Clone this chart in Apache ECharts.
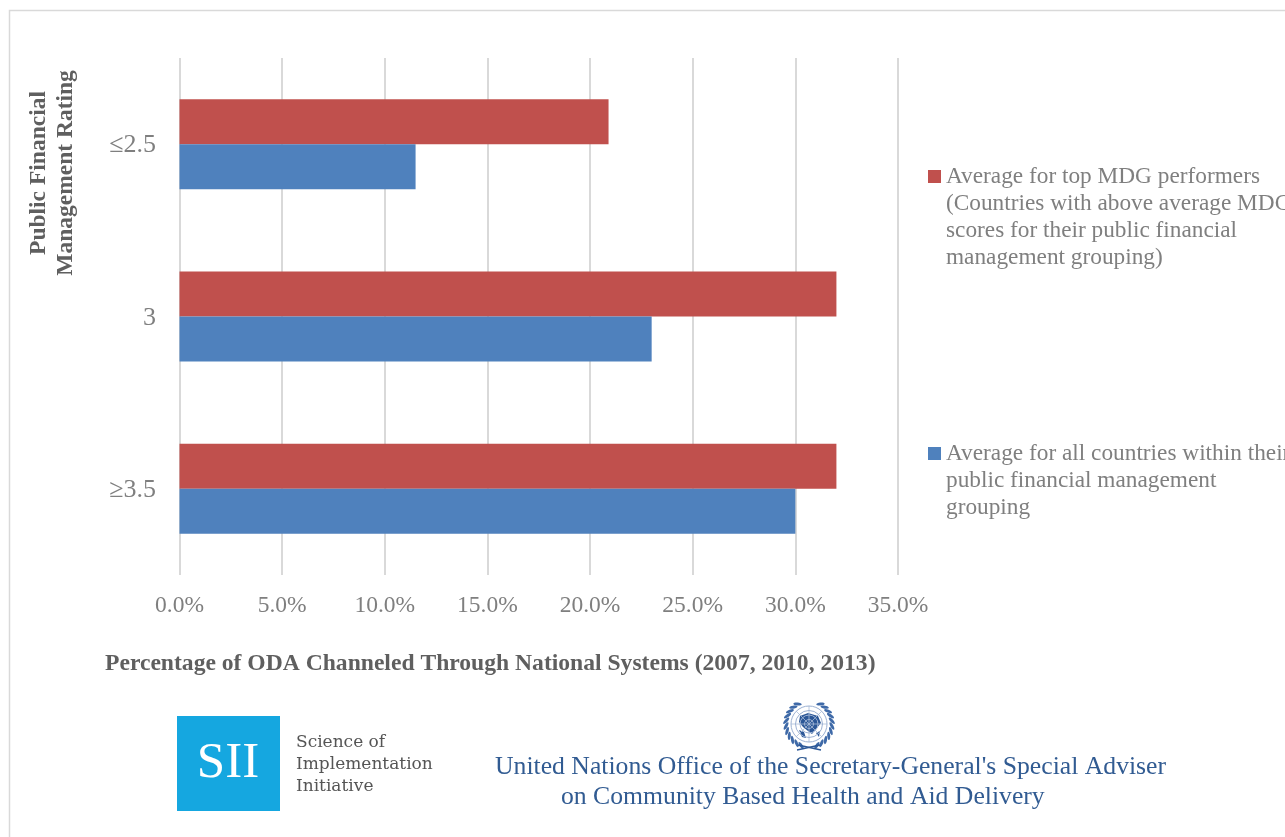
<!DOCTYPE html>
<html>
<head>
<meta charset="utf-8">
<title>ODA channeled through national systems</title>
<script src="https://cdn.jsdelivr.net/npm/echarts@6/dist/echarts.min.js"></script>
<style>
  html, body { margin: 0; padding: 0; background: #fff; overflow: hidden; }
  #chart { width: 1285px; height: 837px; }
</style>
</head>
<body>
<div id="chart"></div>
<script>
const categories = ['≤2.5', '3', '≥3.5'];
const topPerformers = [20.9, 32, 32];
const allCountries = [11.5, 23, 30];
const topName = 'Average for top MDG performers\n(Countries with above average MDG\nscores for their public financial\nmanagement grouping)';
const allName = 'Average for all countries within their\npublic financial management\ngrouping';

const serif = '"Liberation Serif", serif';
const grey = '#7f7f7f';
const boldGrey = '#5f5f5f';
const navy = '#315b92';

// Legend text hangs from the swatch: blank lines above keep the first line level with it.
function hanging(name) {
  const lines = name.split('\n');
  return '\n'.repeat(lines.length - 1) + name;
}

function legendFor(name, top) {
  return {
    data: [name], left: 928, top: top, padding: 0, itemWidth: 13, itemHeight: 13, itemGap: 5,
    icon: 'rect', selectedMode: false,
    formatter: hanging,
    textStyle: { fontFamily: serif, fontSize: 23.3, lineHeight: 27, color: grey }
  };
}

// UN emblem: land masses, rings and meridians of the globe, olive wreath and crossed stems
const emblemCx = 809, emblemCy = 724;
function emblem() {
  const kids = [];
  const land = [
    [[800, 716], [808, 713], [818, 716], [821, 723], [816, 729], [812, 734], [808, 731], [803, 727], [799, 722]],
    [[799, 730], [804, 732], [806, 738], [802, 737]],
    [[816, 733], [820, 731], [819, 737]]
  ];
  land.forEach(points => kids.push({
    type: 'polygon', silent: true, shape: { points }, style: { fill: '#2b5797' }
  }));
  [0, 45, 90, 135].forEach(a => {
    const t = a * Math.PI / 180;
    kids.push({
      type: 'line', silent: true,
      shape: {
        x1: emblemCx - 18 * Math.cos(t), y1: emblemCy - 18 * Math.sin(t),
        x2: emblemCx + 18 * Math.cos(t), y2: emblemCy + 18 * Math.sin(t)
      },
      style: { stroke: '#a9bcd8', lineWidth: 0.8 }
    });
  });
  [18, 13.5, 9, 4.5].forEach(r => kids.push({
    type: 'circle', shape: { cx: emblemCx, cy: emblemCy, r }, silent: true,
    style: { fill: 'none', stroke: '#9db2d3', lineWidth: 1 }
  }));
  // Leaves lean away from the ring so the wreath reads as separate sprigs
  const lean = 35 * Math.PI / 180;
  for (let deg = 20; deg <= 150; deg += 13) {
    [1, -1].forEach(side => {
      const t = deg * Math.PI / 180;
      const x = emblemCx + side * 23 * Math.sin(t);
      const y = emblemCy + 23 * Math.cos(t);
      kids.push({
        type: 'ellipse', silent: true,
        shape: { cx: x, cy: y, rx: 1.5, ry: 4.2 },
        rotation: side * (t - Math.PI / 2 + lean), originX: x, originY: y,
        style: { fill: '#3f6aa8' }
      });
    });
  }
  [[798, 745, 821, 750], [820, 745, 797, 750]].forEach(([x1, y1, x2, y2]) => kids.push({
    type: 'line', silent: true, shape: { x1, y1, x2, y2 },
    style: { stroke: '#2b5797', lineWidth: 1.4 }
  }));
  return { type: 'group', children: kids };
}

const chart = echarts.init(document.getElementById('chart'), null, { renderer: 'canvas' });
chart.setOption({
  animation: false,
  backgroundColor: '#fff',
  title: {
    left: 105, top: 652, padding: 0,
    text: '{b|Percentage of ODA Channeled Through National Systems (2007, 2010, 2013}{r|)}',
    textStyle: {
      rich: {
        b: { fontFamily: serif, fontSize: 23.6, fontWeight: 'bold', color: boldGrey },
        r: { fontFamily: serif, fontSize: 23.6, color: boldGrey }
      }
    }
  },
  legend: [legendFor(topName, 82), legendFor(allName, 386)],
  grid: { left: 179.5, right: 387, top: 58, bottom: 262 },
  xAxis: {
    type: 'value', min: 0, max: 35, interval: 5,
    axisLine: { show: false }, axisTick: { show: false },
    axisLabel: {
      formatter: v => v.toFixed(1) + '%', margin: 19,
      fontFamily: serif, fontSize: 23.5, color: grey
    },
    splitLine: { lineStyle: { color: '#d9d9d9', width: 2 } }
  },
  yAxis: {
    type: 'category', inverse: true, data: categories,
    axisLine: { show: false }, axisTick: { show: false },
    axisLabel: {
      margin: 23.5,
      formatter: v => '{c|' + v + '}',
      rich: { c: { padding: [3, 0, 0, 0], fontFamily: serif, fontSize: 26, color: grey } }
    }
  },
  series: [
    { name: topName, type: 'bar', data: topPerformers, barWidth: 45, barGap: '0%',
      itemStyle: { color: '#c0504d' } },
    { name: allName, type: 'bar', data: allCountries, barWidth: 45, barGap: '0%',
      itemStyle: { color: '#4f81bd' } }
  ],
  graphic: [
    { type: 'rect', silent: true, z: -1,
      shape: { x: 9.5, y: 10.5, width: 1400, height: 900 },
      style: { fill: 'none', stroke: '#d9d9d9', lineWidth: 1.5 } },
    { type: 'text', silent: true, x: 52, y: 173, rotation: Math.PI / 2,
      style: {
        text: 'Public Financial\nManagement Rating', align: 'center', verticalAlign: 'middle',
        font: 'bold 23.5px "Liberation Serif", serif', lineHeight: 27, fill: boldGrey
      } },
    { type: 'rect', silent: true, shape: { x: 177, y: 716, width: 103, height: 95 },
      style: { fill: '#15a7e0' } },
    { type: 'text', silent: true, x: 228, y: 764,
      style: { text: 'SII', align: 'center', verticalAlign: 'middle',
        font: '51px "Liberation Serif", serif', fill: '#fff' } },
    { type: 'text', silent: true, x: 296, y: 765,
      style: { text: 'Science of\nImplementation\nInitiative', verticalAlign: 'middle',
        font: '17px "DejaVu Serif", serif', lineHeight: 22, fill: '#555' } },
    emblem(),
    { type: 'text', silent: true, x: 495, y: 767,
      style: { text: "United Nations Office of the Secretary-General's Special Adviser", verticalAlign: 'middle',
        font: '25.7px "Liberation Serif", serif', fill: navy } },
    { type: 'text', silent: true, x: 561, y: 797,
      style: { text: 'on Community Based Health and Aid Delivery', verticalAlign: 'middle',
        font: '25.7px "Liberation Serif", serif', fill: navy } }
  ]
});
</script>
</body>
</html>
